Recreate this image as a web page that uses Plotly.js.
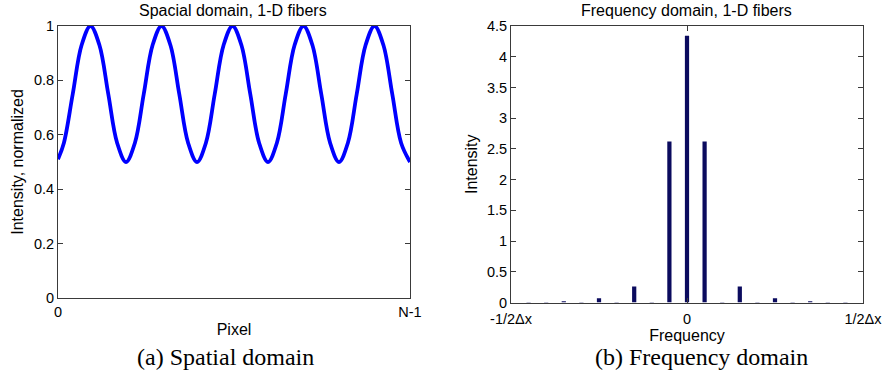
<!DOCTYPE html>
<html>
<head>
<meta charset="utf-8">
<script src="https://cdn.plot.ly/plotly-3.0.1.min.js"></script>
<style>html,body{margin:0;padding:0;background:#fff;}#chart{width:885px;height:385px;}</style>
</head>
<body>
<div id="chart"></div>
<script>
// Spatial domain: pixel position (0..100 = 0..N-1) and normalized intensity
const pixelPos = [0,1.67,4.19,6.71,9.23,11.76,14.28,16.80,19.32,21.84,24.36,26.88,29.41,31.93,34.45,36.97,39.49,42.01,44.53,47.05,49.58,52.10,54.62,57.14,59.66,62.18,64.70,67.22,69.75,72.27,74.79,77.31,79.83,82.35,84.87,87.39,89.92,92.44,94.96,97.48,100];
const intensityNorm = [0.51,0.57,0.75,0.93,1.00,0.93,0.75,0.57,0.50,0.57,0.75,0.93,1.00,0.93,0.75,0.57,0.50,0.57,0.75,0.93,1.00,0.93,0.75,0.57,0.50,0.57,0.75,0.93,1.00,0.93,0.75,0.57,0.50,0.57,0.75,0.93,1.00,0.93,0.75,0.57,0.50];
const pixelTickVals = [0,100];
const pixelTickText = ['0','N-1'];
const intensityTicks = [0,0.2,0.4,0.6,0.8,1];
const intensityTickText = ['0','0.2','0.4','0.6','0.8','1'];

// Frequency domain: frequency bins and spectrum intensity
const freqBins = [-9,-8,-7,-6,-5,-4,-3,-2,-1,0,1,2,3,4,5,6,7,8,9];
const freqIntensity = [0.01,0.01,0.02,0.01,0.07,0.01,0.26,0.01,2.62,4.34,2.62,0.01,0.26,0.01,0.07,0.01,0.02,0.01,0.01];
const freqTickVals = [-10,0,10];
const freqTickText = ['-1/2\u0394x','0','1/2\u0394x'];
const specTicks = [0,0.5,1,1.5,2,2.5,3,3.5,4,4.5];
const specTickText = ['0','0.5','1','1.5','2','2.5','3','3.5','4','4.5'];

const W = 885, H = 385;
const px = v => v / W;
const py = v => (H - v) / H;
const fam = 'Liberation Sans, Arial, sans-serif';
const tickFont = {family: fam, size: 14.5, color: '#000'};
const labFont = {family: fam, size: 16, color: '#000'};
const capFont = {family: 'Liberation Serif, Times New Roman, serif', size: 24, color: '#000'};
const axCol = '#3a3a3a';

const baseAxis = {
  showgrid: false, zeroline: false, showline: true, linecolor: axCol, linewidth: 1,
  mirror: 'ticks', ticks: 'inside', ticklen: 5, tickcolor: axCol, tickwidth: 1,
  tickfont: tickFont, fixedrange: true, automargin: false
};

const traces = [
  {x: pixelPos, y: intensityNorm, type: 'scatter', mode: 'lines',
   line: {color: '#0000ff', width: 3.8, shape: 'spline', smoothing: 1},
   xaxis: 'x', yaxis: 'y', hoverinfo: 'skip'},
  {x: freqBins, y: freqIntensity, type: 'bar', width: 0.24,
   marker: {color: '#0b0b5e', line: {width: 0}},
   xaxis: 'x2', yaxis: 'y2', hoverinfo: 'skip'}
];

const layout = {
  width: W, height: H, showlegend: false,
  margin: {l: 0, r: 0, t: 0, b: 0},
  paper_bgcolor: '#fff', plot_bgcolor: '#fff',
  font: tickFont,
  xaxis: Object.assign({}, baseAxis, {
    domain: [px(58), px(410)], range: [0, 100], anchor: 'y',
    tickmode: 'array', tickvals: pixelTickVals, ticktext: pixelTickText,
    ticklabelstandoff: 1,
    title: {text: 'Pixel', font: labFont, standoff: 4}
  }),
  yaxis: Object.assign({}, baseAxis, {
    domain: [py(298), py(26)], range: [0, 1], anchor: 'x',
    tickmode: 'array', tickvals: intensityTicks, ticktext: intensityTickText,
    title: {text: 'Intensity, normalized', font: labFont, standoff: 6}
  }),
  xaxis2: Object.assign({}, baseAxis, {
    domain: [px(511), px(863)], range: [-10, 10], anchor: 'y2',
    tickmode: 'array', tickvals: freqTickVals, ticktext: freqTickText,
    ticklabelstandoff: 3,
    title: {text: 'Frequency', font: labFont, standoff: 0}
  }),
  yaxis2: Object.assign({}, baseAxis, {
    domain: [py(302.5), py(26)], range: [0, 4.5], anchor: 'x2',
    tickmode: 'array', tickvals: specTicks, ticktext: specTickText,
    title: {text: 'Intensity', font: labFont, standoff: 5}
  }),
  annotations: [
    {text: 'Spacial domain, 1-D fibers', xref: 'paper', yref: 'paper', x: px(233), y: py(10), xanchor: 'center', yanchor: 'middle', showarrow: false, font: labFont},
    {text: 'Frequency domain, 1-D fibers', xref: 'paper', yref: 'paper', x: px(686), y: py(10), xanchor: 'center', yanchor: 'middle', showarrow: false, font: labFont},
    {text: '(a) Spatial domain', xref: 'paper', yref: 'paper', x: px(225), y: py(357), xanchor: 'center', yanchor: 'middle', showarrow: false, font: capFont},
    {text: '(b) Frequency domain', xref: 'paper', yref: 'paper', x: px(701), y: py(357), xanchor: 'center', yanchor: 'middle', showarrow: false, font: capFont}
  ]
};

Plotly.newPlot('chart', traces, layout, {staticPlot: true, displayModeBar: false});
</script>
</body>
</html>
